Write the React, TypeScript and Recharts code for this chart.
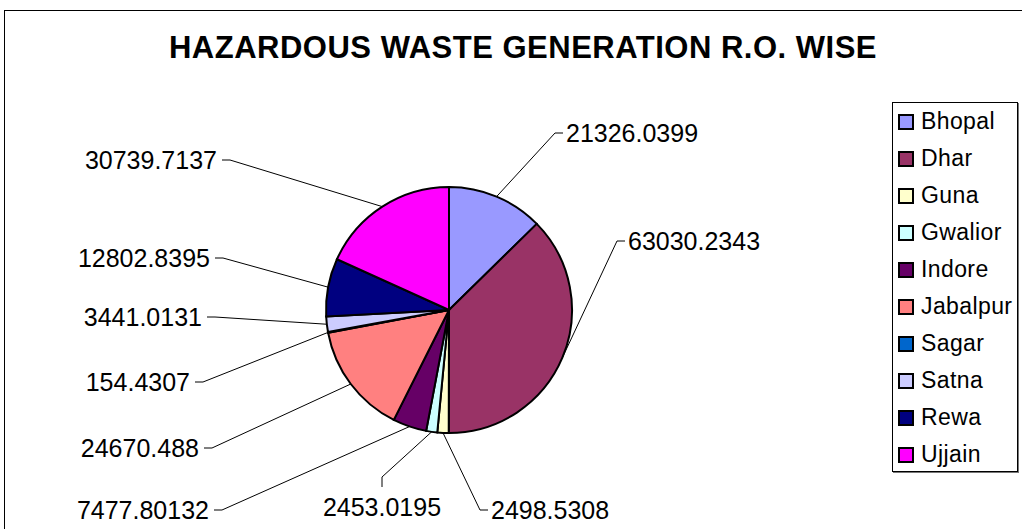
import { Cell, Legend, Pie, PieChart } from 'recharts'

const CITIES = ['Bhopal', 'Dhar', 'Guna', 'Gwalior', 'Indore', 'Jabalpur', 'Sagar', 'Satna', 'Rewa', 'Ujjain']
const WASTE = [
  21326.0399, 63030.2343, 2498.5308, 2453.0195, 7477.80132, 24670.488, 154.4307, 3441.0131, 12802.8395,
  30739.7137,
]
const COLORS = ['#9999FF', '#993366', '#FFFFCC', '#CCFFFF', '#660066', '#FF8080', '#0066CC', '#CCCCFF', '#000080', '#FF00FF']

const data = CITIES.map((name, i) => ({ name, value: WASTE[i] }))

const W = 1022
const H = 529
const CX = 449
const CY = 310
const R = 123
const RAD = Math.PI / 180
const FONT = '"Liberation Sans", Arial, Helvetica, sans-serif'

// where each hand-placed data label's leader line bends, relative to the pie centre
// side: r = text to the right, l = text to the left, d = text below
const LABEL_LAYOUT: Array<{ dx: number; dy: number; side: 'r' | 'l' | 'd' }> = [
  { dx: 106, dy: -177, side: 'r' },
  { dx: 168, dy: -69, side: 'r' },
  { dx: 31, dy: 200, side: 'r' },
  { dx: -67, dy: 167, side: 'd' },
  { dx: -227, dy: 200, side: 'l' },
  { dx: -237, dy: 138, side: 'l' },
  { dx: -246, dy: 72, side: 'l' },
  { dx: -234, dy: 7, side: 'l' },
  { dx: -226, dy: -52, side: 'l' },
  { dx: -219, dy: -150, side: 'l' },
]

function renderLabel(props: any) {
  const { cx, cy, midAngle, outerRadius, index, value } = props
  const sx = cx + outerRadius * Math.cos(-midAngle * RAD)
  const sy = cy + outerRadius * Math.sin(-midAngle * RAD)
  const lay = LABEL_LAYOUT[index]
  const ex = cx + lay.dx
  const ey = cy + lay.dy
  let tx = ex
  let ty = ey
  let anchor: 'start' | 'end' | 'middle' = 'start'
  let points = ''
  if (lay.side === 'r') {
    points = `${sx},${sy} ${ex},${ey} ${ex + 8},${ey}`
    tx = ex + 11
  } else if (lay.side === 'l') {
    points = `${sx},${sy} ${ex},${ey} ${ex - 8},${ey}`
    tx = ex - 13
    anchor = 'end'
  } else {
    points = `${sx},${sy} ${ex},${ey} ${ex},${ey + 10}`
    ty = ey + 30
    anchor = 'middle'
  }
  return (
    <g key={`lbl-${index}`}>
      <polyline points={points} fill="none" stroke="#000" strokeWidth={1} />
      <text x={tx} y={ty} textAnchor={anchor} dominantBaseline="central" fontSize={25} fontFamily={FONT} fill="#000">
        {String(value)}
      </text>
    </g>
  )
}

function LegendBox() {
  return (
    <div
      style={{
        width: 126,
        height: 370,
        boxSizing: 'border-box',
        border: '1px solid #000',
        boxShadow: '1px 1px 0 #777',
        background: '#fff',
        paddingTop: 0,
      }}
    >
      {CITIES.map((c, i) => (
        <div key={c} style={{ display: 'flex', alignItems: 'center', height: 37, paddingLeft: 5 }}>
          <span
            style={{
              width: 16,
              height: 16,
              flexShrink: 0,
              boxSizing: 'border-box',
              border: '2px solid #000',
              background: COLORS[i],
              marginRight: 7,
            }}
          />
          <span style={{ fontFamily: FONT, fontSize: 23, letterSpacing: 0.4, color: '#000', whiteSpace: 'nowrap' }}>{c}</span>
        </div>
      ))}
    </div>
  )
}

export default function App() {
  return (
    <div style={{ position: 'absolute', left: 0, top: 0, width: W, height: H, overflow: 'hidden', background: '#fff' }}>
      <div
        style={{
          position: 'absolute',
          left: 4,
          top: 10,
          width: W,
          height: H,
          border: '1px solid #000',
        }}
      />
      <div
        style={{
          position: 'absolute',
          left: 0,
          width: 1046,
          top: 30,
          textAlign: 'center',
          fontFamily: FONT,
          fontWeight: 'bold',
          fontSize: 31,
          letterSpacing: 0.5,
          lineHeight: '36px',
        }}
      >
        HAZARDOUS WASTE GENERATION R.O. WISE
      </div>
      <div style={{ position: 'absolute', left: 0, top: 0 }}>
        <PieChart width={W} height={H} margin={{ top: 0, right: 0, bottom: 0, left: 0 }}>
          <Pie
            data={data}
            dataKey="value"
            nameKey="name"
            cx={CX}
            cy={CY}
            outerRadius={R}
            startAngle={90}
            endAngle={-270}
            stroke="#000"
            strokeWidth={2}
            label={renderLabel}
            labelLine={false}
            isAnimationActive={false}
          >
            {data.map((d, i) => (
              <Cell key={d.name} fill={COLORS[i]} />
            ))}
          </Pie>
          <Legend
            content={() => <LegendBox />}
            wrapperStyle={{ position: 'absolute', left: 892, top: 102, width: 126, height: 370 }}
          />
        </PieChart>
      </div>
    </div>
  )
}
